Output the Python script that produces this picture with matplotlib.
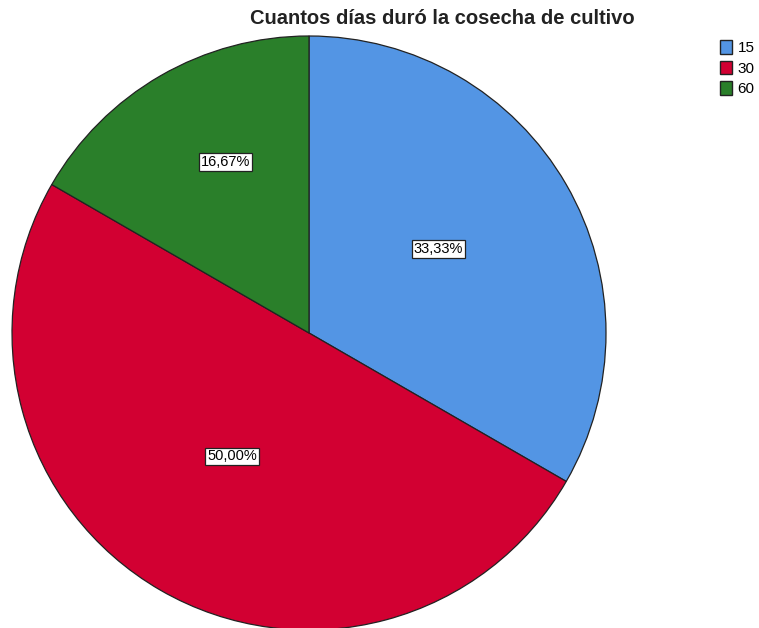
import matplotlib
matplotlib.use("Agg")
import matplotlib.pyplot as plt
import numpy as np
from matplotlib.patches import Patch

plt.rcParams['font.family'] = ['Liberation Sans', 'DejaVu Sans']

title = "Cuantos días duró la cosecha de cultivo"
categories = ["15", "30", "60"]
percentages = [33.33, 50.00, 16.67]
colors = ["#5395E4", "#D20032", "#2A7F2A"]
label_radius = [0.52, 0.49, 0.64]
label_shift_deg = [3, -2, -4]

fig = plt.figure(figsize=(7.59, 6.28), dpi=100)
fig.patch.set_facecolor("white")
ax = fig.add_axes([12 / 759, -2 / 628, 594 / 759, 594 / 628])

wedges, _ = ax.pie(percentages, colors=colors, startangle=90, counterclock=False,
                   wedgeprops=dict(edgecolor="#222222", linewidth=0.9))
ax.set_xlim(-1, 1)
ax.set_ylim(-1, 1)
ax.set_aspect("equal")
ax.axis("off")

for w, pct, r, sh in zip(wedges, percentages, label_radius, label_shift_deg):
    mid = np.deg2rad((w.theta1 + w.theta2) / 2 + sh)
    ax.text(r * np.cos(mid), r * np.sin(mid), f"{pct:.2f}%".replace(".", ","),
            ha="center", va="center", fontsize=10.5,
            bbox=dict(boxstyle="square,pad=0.12", facecolor="white",
                      edgecolor="#222222", linewidth=0.9))

fig.text(442 / 759, 1 - 18 / 628, title, ha="center", va="center",
         fontsize=14.5, fontweight="bold", color="#222222")

handles = [Patch(facecolor=c, edgecolor="#222222", linewidth=1.0) for c in colors]
fig.legend(handles, categories, loc="upper left", bbox_to_anchor=(714 / 759, 1 - 34 / 628),
           frameon=False, fontsize=11, handlelength=0.8, handleheight=1.0,
           handletextpad=0.35, labelspacing=0.35, borderaxespad=0)

fig.savefig("out.png", dpi=100, facecolor="white")
